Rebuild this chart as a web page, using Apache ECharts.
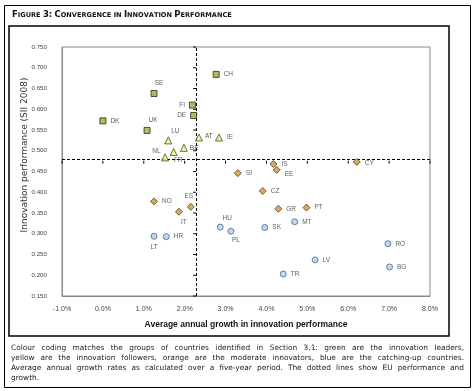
<!DOCTYPE html>
<html><head><meta charset="utf-8">
<script src="https://cdn.jsdelivr.net/npm/echarts@6/dist/echarts.min.js"></script>
<style>html,body{margin:0;padding:0;background:#fff}#c{width:475px;height:391px}</style>
</head><body><div id="c"></div>
<script>
// ---- data ----
const leaderNames = ['CH','SE','FI','DE','DK','UK'];
const leaderGrowth = [2.77,1.25,2.19,2.22,0.00,1.08];
const leaderPerf = [0.684,0.638,0.610,0.585,0.572,0.549];

const followerNames = ['LU','AT','IE','BE','NL','FR'];
const followerGrowth = [1.60,2.35,2.84,1.98,1.73,1.52];
const followerPerf = [0.525,0.532,0.532,0.507,0.497,0.484];

const moderateNames = ['IS','CY','SI','EE','CZ','GR','PT','NO','ES','IT'];
const moderateGrowth = [4.17,6.21,3.30,4.25,3.91,4.29,4.98,1.25,2.15,1.86];
const moderatePerf = [0.468,0.473,0.446,0.454,0.403,0.360,0.363,0.378,0.365,0.353];

const catchingNames = ['MT','SK','RO','LV','BG','TR','LT','HR','HU','PL'];
const catchingGrowth = [4.69,3.96,6.97,5.19,7.01,4.41,1.25,1.55,2.87,3.13];
const catchingPerf = [0.329,0.315,0.276,0.237,0.220,0.203,0.294,0.293,0.316,0.306];

const euGrowth = 2.28;
const euPerf = 0.476;

const xTicks = [-1,0,1,2,3,4,5,6,7,8];
const yTicks = [0.15,0.20,0.25,0.30,0.35,0.40,0.45,0.50,0.55,0.60,0.65,0.70,0.75];

const titleWords = ['Figure','3:','Convergence','in','Innovation','Performance'];
const xAxisTitle = 'Average annual growth in innovation performance';
const yAxisTitle = 'Innovation performance (SII 2008)';
const captionLines = [
 'Colour coding matches the groups of countries identified in Section 3.1: green are the innovation leaders,',
 'yellow are the innovation followers, orange are the moderate innovators, blue are the catching-up countries.',
 'Average annual growth rates as calculated over a five-year period. The dotted lines show EU performance and',
 'growth.'
];

// ---- label placement (style) ----
const labelPlace = {
  SE:{position:'top',offset:[5,1]}, FI:{position:'left'}, DE:{position:'left'},
  UK:{position:'top',offset:[6,1]}, LU:{position:'top',offset:[7,2]},
  AT:{position:'right',offset:[-2,-1]}, BE:{position:'right',offset:[-2,0]},
  NL:{position:'left',offset:[-5,-1]}, FR:{position:'right',offset:[1,3]},
  EE:{position:'right',offset:[0,4]}, CY:{position:'right',offset:[0,1]},
  ES:{position:'top',offset:[-2,1]}, IT:{position:'bottom',offset:[5,-1]},
  LT:{position:'bottom',offset:[0,0]}, HU:{position:'top',offset:[7,2]},
  PL:{position:'bottom',offset:[5,-2]}
};

function build(names, xs, ys){
  return names.map((n,i)=>{
    const d = {name:n, value:[xs[i], ys[i]]};
    if (labelPlace[n]) d.label = labelPlace[n];
    return d;
  });
}

const labelStyle = {show:true, position:'right', formatter:'{b}', fontSize:6.5,
  fontFamily:'Liberation Sans, Arial', color:'#333', distance:4};

const chart = echarts.init(document.getElementById('c'), null, {renderer:'canvas'});

// caption justification
const capFont = '7.4px "DejaVu Sans"';
const mctx = document.createElement('canvas').getContext('2d');
mctx.font = capFont;
const capEls = [];
const capX0 = 11, capX1 = 464, capY0 = 348, capLH = 10;
captionLines.forEach((line, li)=>{
  const words = line.split(' ');
  const widths = words.map(w=>mctx.measureText(w).width);
  const total = widths.reduce((a,b)=>a+b,0);
  const justify = li < captionLines.length-1;
  const gap = justify ? (capX1-capX0-total)/(words.length-1) : mctx.measureText(' ').width;
  let x = capX0;
  words.forEach((w,i)=>{
    capEls.push({type:'text', x:x, y:capY0+li*capLH, silent:true,
      style:{text:w, font:capFont, fill:'#1a1a1a', align:'left', verticalAlign:'middle'}});
    x += widths[i]+gap;
  });
});

// title rich text (small caps): capital letters/digits big, lowercase letters small
function smallCaps(words){
  return words.map(w=>{
    let out='';
    for (const ch of w){
      if (ch === ch.toLowerCase() && ch !== ch.toUpperCase()) out += '{s|'+ch.toUpperCase()+'}';
      else out += '{b|'+ch+'}';
    }
    return out;
  }).join('{s| }');
}

const option = {
  animation:false,
  grid:{left:62, right:45, top:47, bottom:95, show:true, borderColor:'#8a8a8a', borderWidth:1, containLabel:false},
  xAxis:{type:'value', min:-1, max:8, interval:1,
    axisLine:{show:true, onZero:false, lineStyle:{color:'#8a8a8a'}}, axisTick:{show:false}, splitLine:{show:false},
    axisLabel:{formatter:v=>v.toFixed(1)+'%', fontSize:7, fontFamily:'Liberation Sans, Arial', color:'#444', margin:10}},
  yAxis:{type:'value', min:0.15, max:0.75, interval:0.05,
    axisLine:{show:true, onZero:false, lineStyle:{color:'#8a8a8a'}}, axisTick:{show:false}, splitLine:{show:false},
    axisLabel:{formatter:v=>v.toFixed(3), fontSize:6.2, fontFamily:'Liberation Sans, Arial', color:'#444', margin:15}},
  series:[
    {type:'scatter', name:'leaders', symbol:'rect', symbolSize:6, z:5,
     itemStyle:{color:'#97ad3e', borderColor:'#2b2b12', borderWidth:1},
     label:labelStyle, data:build(leaderNames, leaderGrowth, leaderPerf),
     markLine:{silent:true, symbol:'none', animation:false, label:{show:false},
       lineStyle:{color:'#000', type:[3,2], width:1},
       data:[{xAxis:euGrowth},{yAxis:euPerf}]}},
    {type:'scatter', name:'followers', symbol:'triangle', symbolSize:7, z:5,
     itemStyle:{color:'#eef07c', borderColor:'#4a4a2a', borderWidth:1},
     label:labelStyle, data:build(followerNames, followerGrowth, followerPerf)},
    {type:'scatter', name:'moderate', symbol:'diamond', symbolSize:7, z:5,
     itemStyle:{color:'#c8963e', borderColor:'#5e3e12', borderWidth:1},
     label:labelStyle, data:build(moderateNames, moderateGrowth, moderatePerf)},
    {type:'scatter', name:'catching', symbol:'circle', symbolSize:6, z:5,
     itemStyle:{color:'#b6cde4', borderColor:'#4c6788', borderWidth:1},
     label:labelStyle, data:build(catchingNames, catchingGrowth, catchingPerf)},
    {type:'custom', silent:true, z:4,
     data:[0],
     renderItem:function(params, api){
       const ch = [];
       yTicks.forEach(v=>{
         const p = api.coord([euGrowth, v]);
         ch.push({type:'line', shape:{x1:p[0]-3, y1:p[1], x2:p[0], y2:p[1]}, style:{stroke:'#000', lineWidth:1}});
       });
       xTicks.forEach(v=>{
         const p = api.coord([v, euPerf]);
         ch.push({type:'line', shape:{x1:p[0], y1:p[1], x2:p[0], y2:p[1]+3}, style:{stroke:'#000', lineWidth:1}});
       });
       return {type:'group', children:ch};
     }}
  ],
  graphic:[
    {type:'rect', silent:true, shape:{x:4.5, y:5.5, width:466, height:382}, style:{fill:'none', stroke:'#000', lineWidth:1}},
    {type:'rect', silent:true, shape:{x:9, y:26, width:440, height:310}, style:{fill:'none', stroke:'#000', lineWidth:1.5}},
    {type:'text', silent:true, x:12, y:15, style:{text:smallCaps(titleWords), align:'left', verticalAlign:'middle',
      rich:{b:{fontSize:8.5, fontWeight:'bold', fontFamily:'DejaVu Sans', fill:'#111'},
            s:{fontSize:6.6, fontWeight:'bold', fontFamily:'DejaVu Sans', fill:'#111'}}}},
    {type:'text', silent:true, x:246, y:325, style:{text:xAxisTitle, align:'center', verticalAlign:'middle',
      font:'bold 8.5px "Liberation Sans", Arial', fill:'#111'}},
    {type:'text', silent:true, x:25, y:155, rotation:Math.PI/2, style:{text:yAxisTitle, align:'center', verticalAlign:'middle',
      font:'9px "DejaVu Sans"', fill:'#333'}}
  ].concat(capEls)
};
chart.setOption(option);
</script></body></html>
